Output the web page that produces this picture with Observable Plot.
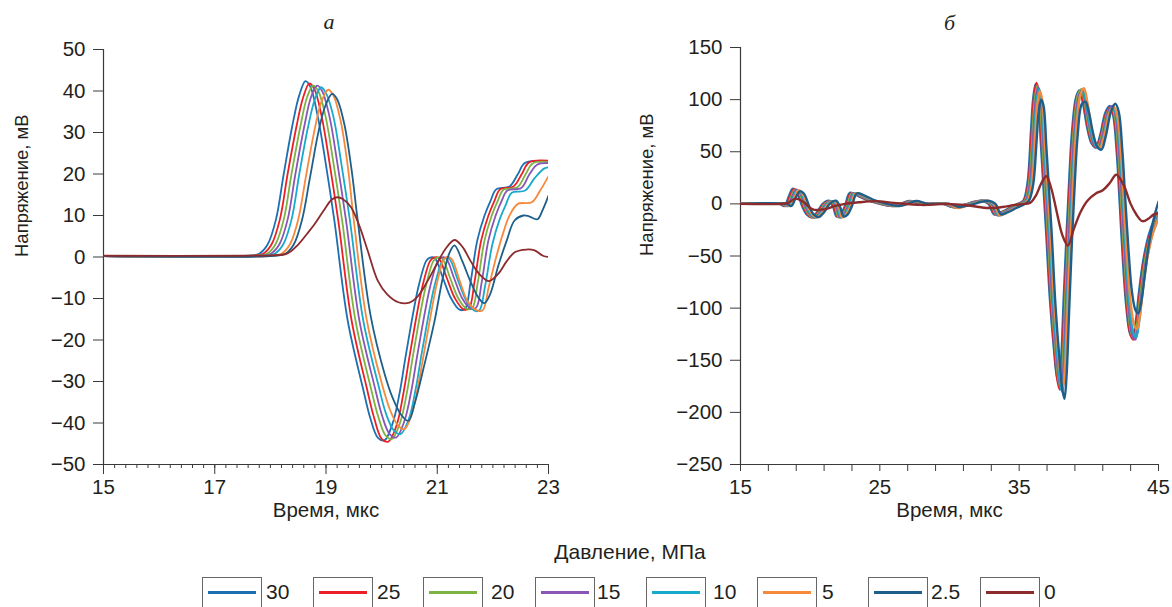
<!DOCTYPE html>
<html><head><meta charset="utf-8">
<script src="https://cdn.jsdelivr.net/npm/d3@7"></script>
<script src="https://cdn.jsdelivr.net/npm/@observablehq/plot@0.6"></script>
<style>
body{margin:0;background:#fff;}
#wrap{position:relative;width:1172px;height:607px;overflow:hidden;font-family:"Liberation Sans",Arial,sans-serif;color:#231f20;}
#a{position:absolute;left:0;top:0;}
#b{position:absolute;left:580px;top:0;}
.lgt{position:absolute;left:430px;width:400px;top:540px;text-align:center;font-size:21px;line-height:24px;}
.box{position:absolute;top:577px;width:60px;height:34px;border:1px solid #666;box-sizing:border-box;}
.box i{position:absolute;left:5px;right:5px;top:13px;height:2.6px;display:block;}
.lab{position:absolute;top:580px;font-size:21px;line-height:24px;}
</style></head>
<body><div id="wrap"><div id="a"></div><div id="b"></div><div id="legend"></div></div>
<script>
// ---------- series (pressure, MPa) ----------
const seriesNames = ["30","25","20","15","10","5","2.5","0"];
const seriesColors = ["#1c70b2","#ec1f26","#7cb342","#8a55b5","#17aacb","#f7893b","#1d5f8a","#8c2b2b"];
const legendTitle = "Давление, МПа";
const yLabel = "Напряжение, мВ";
const xLabel = "Время, мкс";

// ---------- chart а: time (µs) / voltage (mV) ----------
const a30_t = [15,17.6,17.8,17.95,18.1,18.24,18.4,18.52,18.63,18.72,18.85,18.99,19.15,19.39,19.66,19.8,19.93,20.05,20.2,20.32,20.44,20.66,20.8,20.86,20.95,21.1,21.25,21.4,21.5,21.6,21.72,21.85,21.96,22.06,22.3,22.45,22.58,23];
const a30_v = [0.2,0.3,0.8,3,9,20,32,39,42.4,41,34,23,8.8,-15.3,-31.4,-39,-43.5,-44.2,-40,-33,-23.3,-7.3,-1,-0.2,-0.2,-5,-10,-12.7,-12.5,-6,4,10,13.6,16.3,17,20,22.7,23];
const a25_t = [15,17.67,17.87,18.02,18.17,18.31,18.47,18.59,18.7,18.79,18.92,19.06,19.22,19.46,19.73,19.87,20.0,20.12,20.27,20.39,20.51,20.73,20.87,20.93,21.02,21.17,21.32,21.47,21.57,21.67,21.79,21.92,22.03,22.13,22.37,22.52,22.65,23];
const a25_v = [0.2,0.3,0.8,3,9,20,31.5,38.5,41.8,40.5,34,23,8.8,-15.3,-31.4,-39,-43.8,-44.5,-40.5,-33,-23.3,-7.3,-1,-0.2,-0.2,-5,-10,-12.6,-12.4,-6,4,10,13.6,16.3,17,20,22.8,23.2];
const a20_t = [15,17.74,17.94,18.09,18.24,18.38,18.54,18.66,18.77,18.86,18.99,19.13,19.29,19.53,19.8,19.94,20.07,20.18,20.33,20.45,20.57,20.79,20.93,20.99,21.08,21.23,21.38,21.53,21.63,21.73,21.85,21.98,22.09,22.19,22.44,22.59,22.72,23];
const a20_v = [0.2,0.3,0.8,3,9,20,31.5,38.5,41.3,40,34,23,8.8,-15.3,-31.2,-38.5,-43,-43.9,-40,-33,-23.3,-7.3,-1,-0.2,-0.2,-5,-10,-12.5,-12.3,-6,4,10,13.6,16.2,16.8,20,22.6,22.9];
const a15_t = [15,17.81,18.01,18.16,18.31,18.45,18.61,18.73,18.84,18.93,19.06,19.2,19.36,19.6,19.87,20.01,20.14,20.26,20.41,20.53,20.65,20.87,21.01,21.07,21.15,21.3,21.45,21.6,21.7,21.8,21.92,22.05,22.16,22.26,22.51,22.66,22.8,23];
const a15_v = [0.2,0.3,0.8,3,9,20,31.5,38.5,41.3,40,34,23,8.8,-15.3,-31,-38.3,-42.6,-43.5,-39.5,-32.5,-23,-7.3,-1,-0.2,-0.2,-5,-10,-12.4,-12.2,-6,4,10,13.6,16,16.6,20,22.3,22.6];
const a10_t = [15,17.88,18.08,18.23,18.38,18.52,18.68,18.8,18.91,19.0,19.13,19.27,19.43,19.67,19.94,20.08,20.22,20.34,20.49,20.61,20.73,20.95,21.09,21.15,21.22,21.37,21.52,21.68,21.76,21.86,21.99,22.12,22.23,22.34,22.58,22.75,22.92,23];
const a10_v = [0.2,0.3,0.8,3,9,20,31.5,38,40.9,39.5,34,23,8.8,-15.3,-30.8,-37.8,-41.8,-42.7,-39,-32,-22.5,-7,-1,-0.3,-0.5,-5.5,-10.5,-13,-12.8,-7,3,9,12.5,15.5,16,19,21.3,21.6];
const a5_t = [15,18.0,18.2,18.35,18.5,18.64,18.8,18.92,19.04,19.13,19.26,19.39,19.5,19.73,20.0,20.15,20.29,20.41,20.55,20.67,20.79,21.0,21.12,21.18,21.26,21.41,21.56,21.74,21.82,21.93,22.06,22.19,22.3,22.45,22.7,22.85,23];
const a5_v = [0.2,0.3,0.8,3,9,19.5,31,37.5,40.3,39,33,22,8.8,-15,-30.3,-36.8,-40.5,-41.5,-37.5,-30,-21,-6,-0.5,0,-0.5,-6,-11,-13,-12.8,-7,0,6,10,12.8,13.2,16,19.5];
const a2_5_t = [15,18.07,18.27,18.42,18.57,18.71,18.87,18.99,19.11,19.2,19.33,19.46,19.57,19.8,20.05,20.2,20.35,20.48,20.6,20.75,20.95,21.1,21.22,21.31,21.45,21.6,21.75,21.85,21.95,22.1,22.25,22.39,22.55,22.65,22.8,22.9,23];
const a2_5_v = [0.2,0.3,0.8,3,9,19,30.5,36.5,39.3,38,32,21,8.8,-14,-28,-34,-38,-39.5,-35,-27,-15.5,-5,1,2.8,-1,-6,-10,-11.1,-9,-2,4,8.8,10,9.8,9.1,11.5,14.8];
const a0_t = [15,17.5,18.0,18.3,18.5,18.66,18.8,18.95,19.1,19.2,19.3,19.45,19.6,19.75,19.93,20.1,20.3,20.5,20.65,20.83,21.0,21.15,21.31,21.45,21.6,21.75,21.93,22.1,22.25,22.4,22.6,22.75,22.9,23];
const a0_v = [0.3,0.3,0.4,0.8,3,5.6,8,11,13.8,14.4,14,12,7.5,1.5,-5.7,-9,-10.9,-11,-9.5,-5.7,-1.5,2,4.1,2.5,-1,-4,-5.8,-4,-1,1.2,1.8,1.6,0.3,0];

// ---------- chart б ----------
const b30_t = [15,17.8,18.15,18.5,18.75,19.05,19.45,19.75,20.1,20.5,20.9,21.35,21.65,21.9,22.2,22.5,22.85,23.4,24.2,25.0,25.9,26.5,27.1,28.0,29.5,30.2,31.0,31.8,32.3,32.8,33.2,33.7,34.3,34.9,
  35.3,35.6,35.85,36.0,36.18,36.35,36.55,36.75,36.95,37.2,37.5,37.7,37.85,38.0,38.2,38.4,38.6,38.8,39.1,39.35,39.6,39.9,40.2,40.5,40.8,41.2,41.5,41.75,42.0,42.2,42.45,42.7,42.95,43.15,43.35,43.6,43.9,44.3,44.7,45];
const b30_v = [0,0,-2,8,14.5,11,-3,-10,-12.7,-8,0,3,-3,-12,-10,-2,10.5,8,3,0,-2,0,2.7,0,0,-3,-1,2,3,0,-10,-8,-4,0,
  3,20,70,100,115,105,60,15,-30,-90,-140,-165,-172,-152,-90,-30,25,70,103,109,95,72,58,54,65,88,94,85,50,5,-55,-100,-124,-128,-115,-85,-55,-30,-15,-8];
const b25_t = [15,17.88,18.23,18.58,18.83,19.13,19.53,19.83,20.18,20.58,20.98,21.43,21.73,21.98,22.28,22.58,22.93,23.48,24.28,25.08,25.98,26.58,27.18,28.08,29.58,30.28,31.08,31.88,32.38,32.88,33.28,33.78,34.38,34.98,
  35.36,35.66,35.91,36.06,36.24,36.41,36.61,36.81,37.01,37.26,37.56,37.76,37.91,38.06,38.26,38.46,38.66,38.86,39.16,39.41,39.66,39.96,40.26,40.56,40.86,41.26,41.56,41.81,42.06,42.26,42.51,42.76,43.01,43.21,43.41,43.66,43.96,44.36,44.76,45];
const b25_v = [0,0,-2,8,14,11,-3,-10,-13,-8,0,2.5,-3,-12.5,-10,-2,10,8,3,0,-2,0,2.5,0,0,-3,-1,2,3,0,-10,-8,-4,0,
  3,20,70,101,116,106,60,15,-30,-92,-143,-170,-178,-157,-92,-30,25,70,102,108,95,72,58,54,65,87,93,84,50,5,-56,-102,-126,-130,-116,-86,-56,-31,-16,-9];
const b20_t = [15,17.96,18.31,18.66,18.91,19.21,19.61,19.91,20.26,20.66,21.06,21.51,21.81,22.06,22.36,22.66,23.01,23.56,24.36,25.16,26.06,26.66,27.26,28.16,29.66,30.36,31.16,31.96,32.46,32.96,33.36,33.86,34.46,35.06,
  35.42,35.72,35.97,36.12,36.30,36.47,36.67,36.87,37.07,37.32,37.62,37.82,37.97,38.12,38.32,38.52,38.72,38.92,39.22,39.47,39.72,40.02,40.32,40.62,40.92,41.32,41.62,41.87,42.12,42.32,42.57,42.82,43.07,43.27,43.47,43.72,44.02,44.42,44.82,45];
const b20_v = [0,0,-2,7.5,13.5,10.5,-3,-10,-13,-8,0,2.5,-3,-13,-10,-2,10,8,3,0,-2,0,2.5,0,0,-3.5,-1,2,3,0,-10.5,-8,-4,0,
  3,20,68,99,113,104,60,15,-30,-91,-142,-168,-176,-155,-91,-30,25,70,104,110,96,72,58,54,65,87,93,84,50,5,-55,-101,-125,-129,-116,-86,-56,-31,-16,-9];
const b15_t = [15,18.04,18.39,18.74,18.99,19.29,19.69,19.99,20.34,20.74,21.14,21.59,21.89,22.14,22.44,22.74,23.09,23.64,24.44,25.24,26.14,26.74,27.34,28.24,29.74,30.44,31.24,32.04,32.54,33.04,33.44,33.94,34.54,35.14,
  35.48,35.78,36.03,36.18,36.36,36.53,36.73,36.93,37.13,37.38,37.68,37.88,38.03,38.18,38.38,38.58,38.78,38.98,39.28,39.53,39.78,40.08,40.38,40.68,40.98,41.38,41.68,41.93,42.18,42.38,42.63,42.88,43.13,43.33,43.53,43.78,44.08,44.48,44.88,45];
const b15_v = [0,0,-2,7.5,13.5,10.5,-3,-10,-13,-8,0,2.5,-3,-13,-10,-2,10,8,3,0,-2,0,2.5,0,0,-3.5,-1,2,3,0,-11,-8,-4,0,
  3,20,68,98,112,103,60,15,-30,-92,-143,-170,-178,-157,-92,-30,25,70,103,109,95,72,57,54,65,88,94,85,50,5,-56,-102,-126,-130,-117,-87,-57,-31,-16,-9];
const b10_t = [15,18.12,18.47,18.82,19.07,19.37,19.77,20.07,20.42,20.82,21.22,21.67,21.97,22.22,22.52,22.82,23.17,23.72,24.52,25.32,26.22,26.82,27.42,28.32,29.82,30.52,31.32,32.12,32.62,33.12,33.52,34.02,34.62,35.22,
  35.54,35.84,36.09,36.24,36.42,36.59,36.79,36.99,37.19,37.44,37.74,37.94,38.09,38.24,38.44,38.64,38.84,39.04,39.34,39.59,39.84,40.14,40.44,40.74,41.04,41.44,41.74,41.99,42.24,42.44,42.69,42.94,43.19,43.39,43.59,43.84,44.14,44.54,44.94,45];
const b10_v = [0,0,-2,7,13,10,-3,-10,-13,-8,0,2.5,-3,-13,-10,-2,10,8,3,0,-2,0,2.5,0,0,-3.5,-1,2,3,0,-11,-8,-4,0,
  3,19,66,97,110,101,58,14,-30,-93,-145,-172,-180,-158,-93,-30,24,69,102,108,94,71,57,53,64,87,93,84,50,5,-55,-100,-124,-128,-115,-85,-55,-30,-15,-8];
const b5_t = [15,18.2,18.55,18.9,19.15,19.45,19.85,20.15,20.5,20.9,21.3,21.75,22.05,22.3,22.6,22.9,23.25,23.8,24.6,25.4,26.3,26.9,27.5,28.4,29.9,30.6,31.4,32.2,32.7,33.2,33.6,34.1,34.7,35.3,
  35.6,35.9,36.15,36.3,36.48,36.65,36.85,37.05,37.25,37.5,37.8,38.0,38.15,38.3,38.5,38.7,38.9,39.1,39.4,39.65,39.9,40.2,40.5,40.8,41.1,41.5,41.8,42.05,42.3,42.5,42.75,43.0,43.25,43.45,43.65,43.9,44.2,44.6,45];
const b5_v = [0,0,-2,7,13,10,-3,-10,-13,-8,0,2.5,-3,-13,-10,-2,10,8,3,0,-2,0,2.5,0,0,-4,-1,2,3,0,-11,-8,-4,0,
  3,19,65,95,108,100,58,14,-30,-91,-142,-168,-176,-155,-91,-30,26,72,105,111,97,73,58,54,65,88,93,84,50,5,-52,-95,-116,-120,-109,-80,-52,-28,-14];
const b2_5_t = [15,18.3,18.65,19.0,19.25,19.55,19.95,20.25,20.6,21.0,21.4,21.85,22.15,22.4,22.7,23.0,23.35,23.9,24.7,25.5,26.4,27.0,27.6,28.5,30.0,30.7,31.5,32.3,32.8,33.3,33.7,34.2,34.8,35.4,
  35.7,36.0,36.25,36.4,36.58,36.75,36.95,37.15,37.35,37.6,37.9,38.1,38.25,38.4,38.6,38.8,39.0,39.2,39.5,39.75,40.0,40.3,40.6,40.9,41.2,41.6,41.9,42.15,42.4,42.6,42.85,43.1,43.35,43.55,43.75,44.0,44.3,44.7,45];
const b2_5_v = [0,0,-2,7,12,10,-3,-10,-12.7,-8,0,3,-3,-12,-10,-2,10,8,3,0,-2,0,2.7,0,0,-3,-1,2,3,0,-10,-8,-4,0,
  3,18,60,88,100,94,55,12,-32,-96,-150,-178,-187,-165,-98,-32,22,66,96,98,88,68,55,52,64,89,96,88,52,8,-45,-85,-102,-105,-95,-70,-40,-12,2];
const b0_t = [15,17.9,18.4,18.95,19.5,20.0,20.3,20.8,21.1,21.8,22.5,23.5,24.7,26.0,28.0,29.9,31.4,32.8,33.8,34.7,35.4,35.8,36.2,36.6,36.95,37.3,37.7,38.1,38.5,38.9,39.4,39.9,40.5,41.0,41.5,41.97,42.5,43.0,43.4,43.84,44.3,44.67,45];
const b0_v = [0,0,1,5,2,-4,-5.7,-5.5,-5,-2,0,1.5,2.6,1,-1,0,-1.6,-4,-3,-1,0,1,8,20,26.5,15,-8,-30,-40,-25,-8,3,10,13,20,28,18,0,-10,-16.6,-14,-10,-9];

// ---------- ticks ----------
const aXTicks = [15,17,19,21,23];
const aXMinor = d3.range(15.2, 22.9, 0.2);
const aYTicks = [-50,-40,-30,-20,-10,0,10,20,30,40,50];
const bXTicks = d3.range(15, 46, 2);
const bXLabeled = [15,25,35,45];
const bYTicks = [-250,-200,-150,-100,-50,0,50,100,150];

function rows(list){
  return list.flatMap(([t,v],i)=>t.map((tt,j)=>({t:tt, v:v[j], s:seriesNames[i]})));
}
const dataA = rows([[a30_t,a30_v],[a25_t,a25_v],[a20_t,a20_v],[a15_t,a15_v],[a10_t,a10_v],[a5_t,a5_v],[a2_5_t,a2_5_v],[a0_t,a0_v]]);
const dataB = rows([[b30_t,b30_v],[b25_t,b25_v],[b20_t,b20_v],[b15_t,b15_v],[b10_t,b10_v],[b5_t,b5_v],[b2_5_t,b2_5_v],[b0_t,b0_v]]);

const fmt = d => d < 0 ? "\u2212" + Math.abs(d) : String(d);
const FONT = "Liberation Sans, Arial, sans-serif";
const INK = "#231f20";
const AX = "#3a3a3a";

function makePlot(o){
  const pxPerY = (464 - o.mt) / (o.yd[1] - o.yd[0]);
  return Plot.plot({
    width:o.width, height:530,
    marginLeft:o.ml, marginRight:o.mr, marginTop:o.mt, marginBottom:530-464,
    style:{fontFamily:FONT, fontSize:"20.5px", color:INK, background:"transparent", overflow:"visible"},
    x:{domain:o.xd}, y:{domain:o.yd},
    color:{domain:seriesNames, range:seriesColors},
    marks:[
      ...(o.minor ? [Plot.ruleX(o.minor, {y1:o.yd[0], y2:o.yd[0] - 4/pxPerY, stroke:AX, strokeWidth:1, clip:false})] : []),
      Plot.axisX({ticks:o.xt, tickSize:o.xts, tickPadding:o.xtp, tickFormat:o.xf, label:null, stroke:AX, fontSize:20.5}),
      Plot.axisY({ticks:o.yt, tickSize:10, tickPadding:8, tickFormat:fmt, label:null, stroke:AX, fontSize:20.5}),
      Plot.ruleX([o.xd[0]], {stroke:AX, strokeWidth:1.2}),
      Plot.ruleY([o.yd[0]], {stroke:AX, strokeWidth:1.2}),
      Plot.line(o.data, {x:"t", y:"v", z:"s", stroke:"s", strokeWidth:o.sw, curve:"catmull-rom", clip:true}),
      Plot.text([yLabel], {text:d=>d, frameAnchor:"left", dx:o.ylx, rotate:-90, fontSize:18.5, fill:INK}),
      Plot.text([xLabel], {text:d=>d, frameAnchor:"bottom", dy:52, fontSize:20.5, fill:INK}),
      Plot.text([o.title], {text:d=>d, frameAnchor:"top", dy:o.tdy, dx:o.tdx, fontSize:22, fontStyle:"italic", fontFamily:"Liberation Serif, serif", fill:INK})
    ]
  });
}

document.getElementById("a").append(makePlot({
  width:580, ml:103, mr:32, mt:49, xd:[15,23], yd:[-50,50],
  xt:aXTicks, xts:10, xtp:5, xf:d=>String(d), yt:aYTicks, minor:aXMinor,
  data:dataA, sw:1.8, ylx:-81, title:"а", tdy:-36, tdx:3
}));
document.getElementById("b").append(makePlot({
  width:592, ml:160, mr:14, mt:47, xd:[15,45], yd:[-250,150],
  xt:bXTicks, xts:7, xtp:8, xf:d=>bXLabeled.includes(d) ? String(d) : "", yt:bYTicks, minor:null,
  data:dataB, sw:2.4, ylx:-93, title:"б", tdy:-33, tdx:0
}));

// ---------- legend ----------
const legendBoxX = [202,313,423,535,646,757,868,980];
const legendLabX = [266,377,491,597,713,822,931,1044];
const lg = document.getElementById("legend");
const t = document.createElement("div"); t.className="lgt"; t.textContent=legendTitle; lg.append(t);
seriesNames.forEach((n,i)=>{
  const b=document.createElement("div"); b.className="box"; b.style.left=legendBoxX[i]+"px";
  const ln=document.createElement("i"); ln.style.background=seriesColors[i]; b.append(ln); lg.append(b);
  const l=document.createElement("div"); l.className="lab"; l.style.left=legendLabX[i]+"px"; l.textContent=n; lg.append(l);
});
</script></body></html>
